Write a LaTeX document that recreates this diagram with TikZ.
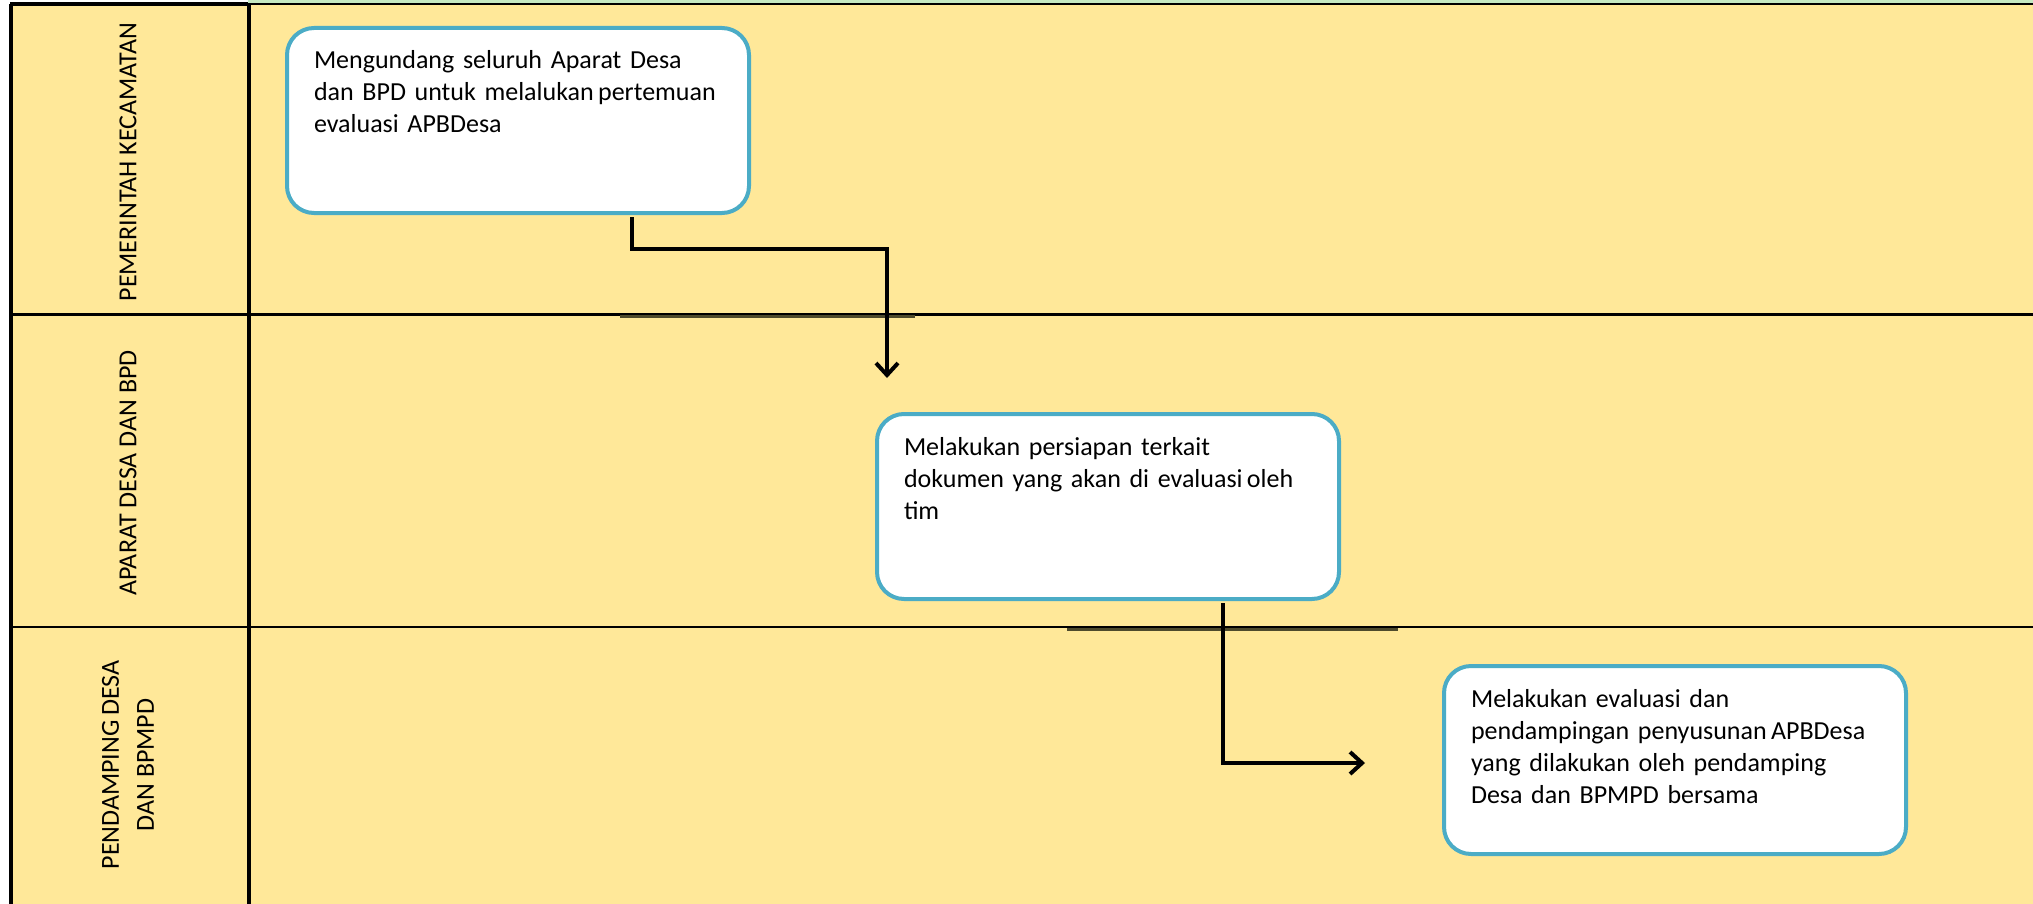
\documentclass[tikz,border=0pt]{standalone}
\usepackage{fontspec}
\setmainfont{Carlito}
\usetikzlibrary{arrows.meta}
\definecolor{laneyellow}{RGB}{255,232,153}
\definecolor{stripgreen}{RGB}{198,233,194}
\definecolor{boxblue}{RGB}{75,172,198}
\definecolor{shadeline}{RGB}{78,74,44}

\begin{document}
\begin{tikzpicture}[x=0.5pt,y=-0.5pt,
  lane/.style={rotate=90,align=center,font=\fontsize{13}{17.5}\selectfont},
  task/.style={draw=boxblue,line width=2pt,fill=white,rounded corners=13.5pt,anchor=north west,
    align=left,text width=204pt,inner xsep=13.5pt,inner ysep=11.5pt,text height=9pt,
    font=\fontsize{13}{16}\selectfont},
  flow/.style={line width=2pt,shorten <=1pt,-{Straight Barb[length=6pt,width=11pt]}}]
\useasboundingbox (0,0) rectangle (2033,904);
\fill[laneyellow] (10,4) rectangle (2033,904);
\fill[stripgreen] (248,0) rectangle (2033,3);
\draw[line width=1.2pt] (10,4)--(2033,4);
\draw[line width=1.3pt] (10,314.5)--(2033,314.5);
\draw[line width=1.3pt] (10,627)--(2033,627);
\draw[shadeline,line width=1.5pt] (620,316)--(915,316);
\draw[shadeline,line width=1.5pt] (1067,629)--(1398,629);
\draw[line width=2pt] (10,4)--(248,4);
\draw[line width=2pt] (10.5,4)--(10.5,904);
\draw[line width=2pt] (249,4)--(249,904);
\node[lane] (kecamatan) at (128,162) {PEMERINTAH KECAMATAN};
\node[lane] (aparat) at (128,473) {APARAT DESA DAN BPD};
\node[lane] (pendamping) at (128,765) {PENDAMPING\,DESA\\DAN BPMPD};
\node[task,text depth=60.5pt] (undang) at (285,26) {Mengundang seluruh Aparat Desa\\dan BPD untuk melalukan\,pertemuan\\evaluasi APBDesa};
\node[task,text depth=60.5pt] (siap) at (875,412) {Melakukan persiapan terkait\\dokumen yang akan di evaluasi\,oleh\\tim};
\node[task,text depth=62pt] (evaluasi) at (1442,664) {Melakukan evaluasi dan\\pendampingan penyusunan\,APBDesa\\yang dilakukan oleh pendamping\\Desa dan BPMPD bersama};
\coordinate (bend1) at (632,249);
\coordinate (tip1) at (887,378);
\coordinate (bend2) at (1223,763);
\coordinate (tip2) at (1365,763);
\draw[flow] (undang.south -| bend1)--(bend1) -| (tip1);
\draw[flow] (siap.south -| bend2)--(bend2)--(tip2);
\end{tikzpicture}
\end{document}
